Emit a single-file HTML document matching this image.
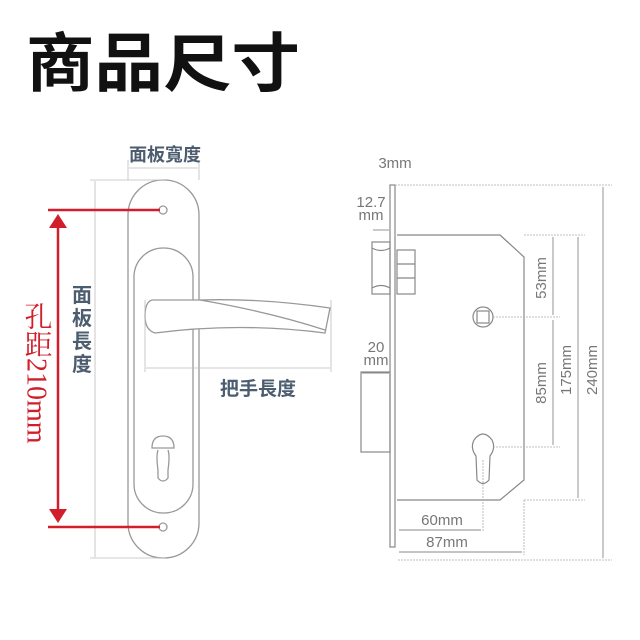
<!DOCTYPE html>
<html><head><meta charset="utf-8"><style>
html,body{margin:0;padding:0;background:#fff;}
svg{display:block}
</style></head><body>
<svg width="640" height="640" viewBox="0 0 640 640" xmlns="http://www.w3.org/2000/svg" font-family="Liberation Sans, Noto Sans CJK TC, sans-serif">
<rect width="640" height="640" fill="#fff"/>
<text x="26" y="86" font-size="64" font-weight="bold" fill="#111" font-family="Noto Sans CJK TC, sans-serif" textLength="274" lengthAdjust="spacingAndGlyphs">商品尺寸</text>

<!-- LEFT: handle plate -->
<g fill="none" stroke="#999" stroke-width="1.3">
  <rect x="128" y="180" width="71" height="378" rx="35" ry="35"/>
  <rect x="134" y="248" width="59" height="265" rx="29" ry="29"/>
  <circle cx="163" cy="210" r="4"/>
  <circle cx="163" cy="527" r="4"/>
  <path d="M152 300 Q145 302 145 316 Q145 330 155 333 Q240 322 325 333 L330 308 Q260 298 200 300 Z" fill="#fff"/>
  <path d="M200 300 Q270 312 325 330"/>
  <path d="M152 448 Q152 436 163 436 Q174 436 174 448 Z"/>
  <path d="M158 450 Q156 456 158 470 L158 478 Q163 484 168 478 L168 470 Q170 456 168 450"/>
</g>
<g stroke="#bbb" stroke-width="0.8" fill="none">
  <line x1="128" y1="160" x2="128" y2="180"/><line x1="199" y1="160" x2="199" y2="180"/>
  <line x1="129" y1="168" x2="198" y2="168"/>
  <line x1="90" y1="180" x2="165" y2="180"/><line x1="90" y1="558" x2="165" y2="558"/>
  <line x1="95" y1="181" x2="95" y2="557"/>
  <line x1="145" y1="300" x2="145" y2="372"/><line x1="331" y1="300" x2="331" y2="372"/>
  <line x1="146" y1="368" x2="330" y2="368"/>
</g>
<text x="165" y="161" font-size="18" font-weight="bold" fill="#4d5d70" text-anchor="middle" font-family="Noto Sans CJK TC, sans-serif">面板寬度</text>
<text x="258" y="395" font-size="19" font-weight="bold" fill="#4d5d70" text-anchor="middle" font-family="Noto Sans CJK TC, sans-serif">把手長度</text>
<g font-size="20" font-weight="bold" fill="#4d5d70" text-anchor="middle" font-family="Noto Sans CJK TC, sans-serif">
  <text x="82" y="302">面</text><text x="82" y="325">板</text><text x="82" y="348">長</text><text x="82" y="371">度</text>
</g>
<!-- red dimension -->
<g stroke="#d21e2b" stroke-width="2.5" fill="#d21e2b">
  <line x1="48" y1="210" x2="160" y2="210"/>
  <line x1="48" y1="527" x2="160" y2="527"/>
  <line x1="58" y1="225" x2="58" y2="512"/>
  <path d="M49 228 L58 214 L67 228 Z" stroke="none"/>
  <path d="M49 509 L58 523 L67 509 Z" stroke="none"/>
</g>
<text x="36" y="302" font-size="28" fill="#d21e2b" style="writing-mode:vertical-rl" font-family="Liberation Serif, Noto Serif CJK SC, serif">孔距210mm</text>

<!-- RIGHT: mortise -->
<g fill="none" stroke="#888" stroke-width="1.2">
  <rect x="390" y="185" width="5" height="362"/>
  <path d="M397 235 L500 235 L524 257 L524 480 L500 500 L397 500"/>
  <rect x="372" y="242" width="18" height="52"/>
  <path d="M372 248 Q381 253 390 248 M372 288 Q381 283 390 288"/>
  <rect x="397" y="250" width="18" height="44"/>
  <line x1="397" y1="264" x2="415" y2="264"/><line x1="397" y1="278" x2="415" y2="278"/>
  <rect x="361" y="372" width="29" height="80"/>
  <circle cx="483" cy="317" r="10"/>
  <rect x="477" y="311" width="12" height="12"/>
  <path d="M476 456 Q470 448 474 440 Q483 428 492 440 Q496 448 490 456 L489 480 Q483 487 477 480 Z"/>
</g>
<g stroke="#aaa" stroke-width="0.8" fill="none" stroke-dasharray="2,1">
  <line x1="395" y1="185" x2="612" y2="185"/><line x1="398" y1="560" x2="612" y2="560"/>
  <line x1="524" y1="235" x2="585" y2="235"/><line x1="524" y1="500" x2="585" y2="500"/>
  <line x1="493" y1="317" x2="560" y2="317"/><line x1="493" y1="447" x2="560" y2="447"/>
  <line x1="483" y1="460" x2="483" y2="532"/><line x1="524" y1="500" x2="524" y2="555"/>
</g>
<g stroke="#888" stroke-width="0.9" fill="none">
  <line x1="603" y1="187" x2="603" y2="558"/>
  <line x1="578" y1="237" x2="578" y2="498"/>
  <line x1="553" y1="237" x2="553" y2="315"/>
  <line x1="553" y1="320" x2="553" y2="445"/>
  <line x1="399" y1="530" x2="481" y2="530"/>
  <line x1="399" y1="552" x2="522" y2="552"/>
  <line x1="373" y1="230" x2="389" y2="230"/>
  <line x1="362" y1="373" x2="389" y2="373"/>
</g>
<g fill="#777" font-size="15" font-family="Liberation Sans, sans-serif">
  <text x="395" y="168" text-anchor="middle">3mm</text>
  <text x="371" y="207" text-anchor="middle">12.7</text>
  <text x="371" y="220" text-anchor="middle">mm</text>
  <text x="376" y="352" text-anchor="middle">20</text>
  <text x="376" y="365" text-anchor="middle">mm</text>
  <text x="442" y="525" text-anchor="middle">60mm</text>
  <text x="447" y="547" text-anchor="middle">87mm</text>
  <text transform="translate(546,278) rotate(-90)" text-anchor="middle">53mm</text>
  <text transform="translate(546,383) rotate(-90)" text-anchor="middle">85mm</text>
  <text transform="translate(571,370) rotate(-90)" text-anchor="middle">175mm</text>
  <text transform="translate(597,370) rotate(-90)" text-anchor="middle">240mm</text>
</g>
</svg>
</body></html>
